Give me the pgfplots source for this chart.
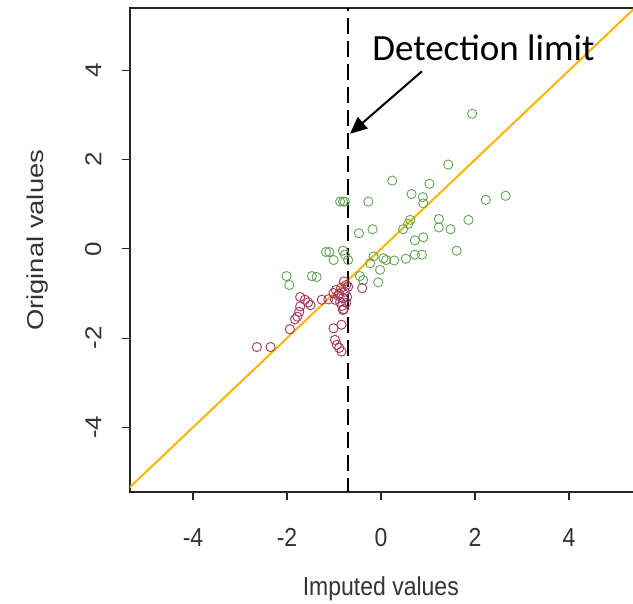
\documentclass[border=0pt]{standalone}
\usepackage{fontspec}
\setmainfont{Liberation Sans}
\newfontfamily\calibri{Carlito}
\usepackage{pgfplots}
\pgfplotsset{compat=1.18}
\usetikzlibrary{arrows.meta}
\definecolor{ptgreen}{RGB}{100,165,85}
\definecolor{ptred}{RGB}{165,55,95}
\definecolor{lineorange}{RGB}{255,180,0}
\newcommand{\xt}[1]{\scalebox{1}[1.13]{#1}}
\newcommand{\yt}[1]{\scalebox{1.13}[1]{#1}}
\begin{document}
\begin{tikzpicture}
\begin{axis}[
  at={(0,0)}, anchor=south west,
  scale only axis, width=507.2pt, height=484pt,
  xmin=-5.34, xmax=5.45, ymin=-5.45, ymax=5.40,
  axis line style={line width=1.1pt, black!85},
  tick style={line width=1.1pt, black!85},
  tick align=outside, major tick length=8pt,
  xtick pos=bottom, ytick pos=left,
  font=\fontsize{23}{23}\selectfont,
  xtick={-4,-2,0,2,4},
  xticklabels={\xt{-4},\xt{-2},\xt{0},\xt{2},\xt{4}},
  ytick={-4,-2,0,2,4},
  yticklabels={\yt{-4},\yt{-2},\yt{0},\yt{2},\yt{4}},
  xticklabel style={yshift=-25pt, text=black!80},
  yticklabel style={rotate=90, anchor=south, yshift=17pt, text=black!80},
  xlabel={\xt{Imputed values}},
  ylabel={\scalebox{1.19}[1]{Original values}},
  xlabel style={at={(axis description cs:0.4945,0)}, anchor=base, yshift=-104pt, text=black!80},
  ylabel style={at={(axis description cs:0,0.52)}, anchor=base, rotate=0, xshift=0pt, yshift=86pt, text=black!80},
  clip=true,
]
% observed (green)
\addplot[only marks, mark=o, mark size=4.6pt, mark options={ptgreen, line width=0.9pt}] coordinates {
(1.94,3.03) (1.43,1.89) (0.24,1.53) (1.03,1.46) (0.65,1.23) (0.89,1.16) (0.90,1.02)
(-0.87,1.06) (-0.81,1.06) (-0.77,1.06) (-0.27,1.06) (2.23,1.10) (2.65,1.19)
(0.62,0.65) (0.58,0.56) (0.47,0.44) (1.23,0.67) (1.23,0.48) (1.48,0.44) (1.86,0.65)
(-0.47,0.35) (-0.18,0.44) (0.90,0.26) (0.72,0.19) (1.61,-0.04)
(-1.17,-0.07) (-1.10,-0.07) (-1.01,-0.25) (-0.81,-0.04) (-0.77,-0.13) (-0.70,-0.25)
(-0.16,-0.17) (-0.23,-0.32) (0.05,-0.21) (0.11,-0.25) (0.28,-0.26) (0.53,-0.22)
(0.72,-0.13) (0.87,-0.13) (-0.02,-0.47) (-0.06,-0.75) (-0.45,-0.61) (-0.38,-0.70)
(-2.01,-0.61) (-1.95,-0.81) (-1.47,-0.61) (-1.37,-0.63)
};
% imputed (red)
\addplot[only marks, mark=o, mark size=4.6pt, mark options={ptred, line width=0.9pt}] coordinates {
(-1.72,-1.08) (-1.62,-1.14) (-1.55,-1.20) (-1.50,-1.26) (-1.72,-1.29) (-1.74,-1.41)
(-1.78,-1.52) (-1.83,-1.58) (-1.94,-1.80) (-1.26,-1.14) (-1.12,-1.13) (-1.01,-0.99)
(-2.64,-2.20) (-2.35,-2.20)
(-0.96,-0.92) (-0.85,-0.87) (-0.77,-0.96) (-0.91,-1.05) (-0.81,-1.10) (-0.72,-1.08)
(-0.98,-1.14) (-0.87,-1.19) (-0.74,-1.21) (-0.83,-1.28) (-0.79,-1.35) (-0.89,-1.01)
(-0.70,-0.85) (-0.79,-0.73) (-0.74,-0.81) (-0.81,-1.37) (-0.40,-0.88)
(-1.01,-1.78) (-0.84,-1.70) (-0.98,-2.04) (-0.94,-2.15) (-0.89,-2.22) (-0.84,-2.30)
};
% identity line
\addplot[lineorange, line width=2pt] coordinates {(-6,-6) (6,6)};
% detection limit
\addplot[black, line width=2.2pt, dash pattern=on 16pt off 7pt] coordinates {(-0.71,-6) (-0.71,6)};
\draw[black, line width=2pt, -{Triangle[length=17pt,width=15pt]}] (axis cs:0.87,3.98) -- (axis cs:-0.66,2.58);
\node[anchor=base west, inner sep=0pt, font=\calibri\fontsize{37}{37}\selectfont] at (axis cs:-0.19,4.22) {Detection limit};
\end{axis}
\pgfresetboundingbox
\path[use as bounding box] (-130pt,-112pt) rectangle (503pt,492pt);
\end{tikzpicture}
\end{document}
